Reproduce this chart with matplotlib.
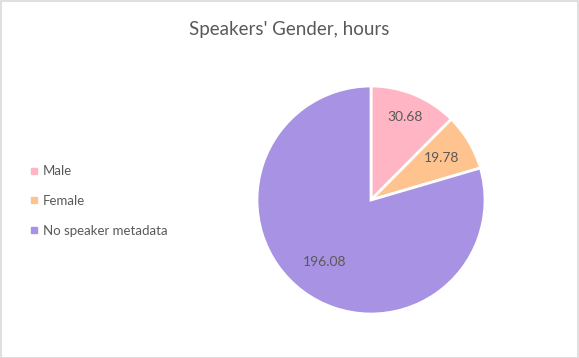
import numpy as np
import matplotlib.pyplot as plt
from matplotlib.lines import Line2D
from matplotlib.patches import Rectangle

# Datos
categorias = ['Male', 'Female', 'No speaker metadata']
horas = [30.68, 19.78, 196.08]
colores = ['#FFB5C3', '#FEC38E', '#A792E3']

texto = '#595959'
plt.rcParams['font.family'] = ['Lato', 'DejaVu Sans']

fig = plt.figure(figsize=(5.79, 3.58), dpi=100)
ax = fig.add_axes([257 / 579, 44 / 358, 228 / 579, 228 / 358])

wedges, _ = ax.pie(horas, colors=colores, startangle=90, counterclock=False,
                   wedgeprops=dict(edgecolor='white', linewidth=2))
ax.set_xlim(-1, 1)
ax.set_ylim(-1, 1)
ax.set_aspect('equal')

# etiquetas con el valor dentro de cada porcion
dist = [0.79, 0.72, 0.68]
for w, v, d in zip(wedges, horas, dist):
    ang = np.deg2rad((w.theta1 + w.theta2) / 2)
    ax.text(d * np.cos(ang), d * np.sin(ang), '{:.2f}'.format(v),
            ha='center', va='center', fontsize=10, color=texto)

fig.text(0.5, 1 - 30 / 358, "Speakers' Gender, hours", ha='center', va='center',
         fontsize=13.5, color=texto)

handles = [Line2D([], [], marker='s', linestyle='', markersize=4,
                  markerfacecolor=c, markeredgecolor=c) for c in colores]
fig.legend(handles, categorias, loc='center left', bbox_to_anchor=(14 / 579, 1 - 201 / 358),
           frameon=False, fontsize=9.5, labelcolor=texto, handletextpad=0.1,
           labelspacing=1.35, handlelength=1.2)

fig.patches.append(Rectangle((0.5 / 579, 0.5 / 358), 1 - 1.5 / 579, 1 - 1.5 / 358,
                             transform=fig.transFigure, fill=False,
                             edgecolor='#D9D9D9', linewidth=1.2))

fig.savefig('out.png', dpi=100)
